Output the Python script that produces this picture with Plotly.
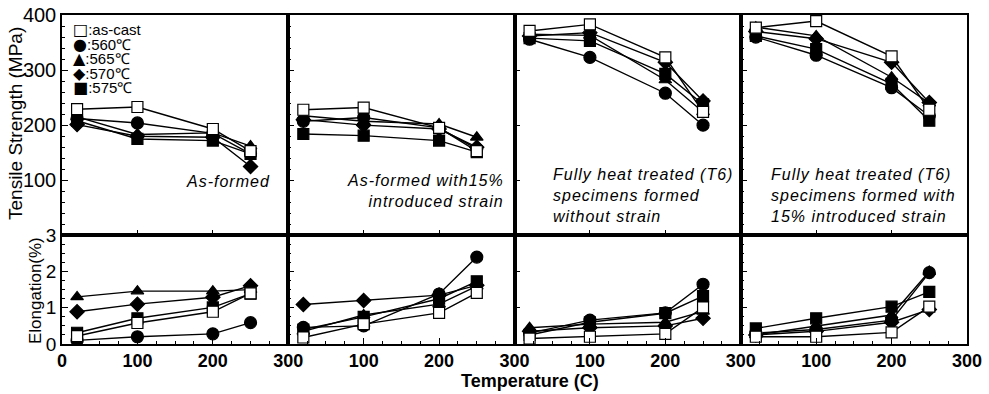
import plotly.graph_objects as go
from plotly.subplots import make_subplots

temps = [20, 100, 200, 250]
series = ["as-cast", "560℃", "565℃", "570℃", "575℃"]
symbols = ["square", "circle", "triangle-up", "diamond", "square"]
fills = ["white", "black", "black", "black", "black"]
legend_glyphs = ["□", "●", "▲", "◆", "■"]

# Tensile strength (MPa), per panel, per series [as-cast, 560, 565, 570, 575]
ts_as_formed = [
    [229, 233, 193, 153],
    [212, 204, 185, 148],
    [215, 183, 186, 162],
    [201, 180, 178, 125],
    [208, 175, 172, 148],
]
ts_as_formed_15 = [
    [228, 232, 195, 153],
    [207, 214, 195, 157],
    [217, 207, 202, 178],
    [210, 200, 193, 160],
    [184, 181, 172, 151],
]
ts_t6 = [
    [371, 383, 323, 224],
    [356, 323, 258, 200],
    [365, 363, 282, 224],
    [362, 368, 314, 244],
    [358, 353, 293, 238],
]
ts_t6_15 = [
    [377, 389, 325, 228],
    [360, 327, 268, 217],
    [378, 362, 287, 240],
    [370, 357, 314, 241],
    [362, 338, 275, 208],
]

# Elongation (%)
el_as_formed = [
    [0.22, 0.58, 0.89, 1.40],
    [0.10, 0.20, 0.28, 0.59],
    [1.30, 1.46, 1.46, 1.50],
    [0.89, 1.10, 1.29, 1.61],
    [0.31, 0.71, 1.01, 1.39],
]
el_as_formed_15 = [
    [0.18, 0.55, 0.86, 1.41],
    [0.46, 0.50, 1.38, 2.40],
    [0.35, 0.80, 1.10, 1.60],
    [1.09, 1.20, 1.35, 1.62],
    [0.40, 0.75, 1.25, 1.73],
]
el_t6 = [
    [0.15, 0.20, 0.28, 1.01],
    [0.30, 0.66, 0.86, 1.65],
    [0.45, 0.55, 0.60, 0.90],
    [0.35, 0.45, 0.50, 0.71],
    [0.25, 0.60, 0.85, 1.32],
]
el_t6_15 = [
    [0.20, 0.20, 0.32, 1.03],
    [0.30, 0.40, 0.66, 1.97],
    [0.25, 0.50, 0.80, 2.00],
    [0.25, 0.35, 0.60, 0.95],
    [0.43, 0.71, 1.03, 1.44],
]

strength = [ts_as_formed, ts_as_formed_15, ts_t6, ts_t6_15]
elong = [el_as_formed, el_as_formed_15, el_t6, el_t6_15]

panel_labels = [
    "As-formed",
    "As-formed with15%<br>introduced strain",
    "Fully heat treated (T6)<br>specimens formed<br>without strain",
    "Fully heat treated (T6)<br>specimens formed with<br>15% introduced strain",
]

fig = make_subplots(rows=2, cols=4, horizontal_spacing=0, vertical_spacing=0,
                    row_heights=[221, 109])

order = [1, 2, 3, 4, 0]  # draw as-cast last (on top)
for c in range(4):
    for row, data in ((1, strength[c]), (2, elong[c])):
        for i in order:
            fig.add_trace(go.Scatter(
                x=temps, y=data[i], mode="lines+markers", name=series[i],
                showlegend=False,
                line=dict(color="black", width=1.4),
                marker=dict(symbol=symbols[i], size=11 if symbols[i] != "circle" else 12,
                            color=fills[i], line=dict(color="black", width=1.2)),
            ), row=row, col=c + 1)

W, H = 989, 394
L, R, T, B = 62, 22, 15, 50
pw, ph = W - L - R, H - T - B


def px(X):
    return (X - L) / pw


def py(Y):
    return (H - B - Y) / ph


axis_common = dict(showline=True, linecolor="black", linewidth=1.5, mirror=True,
                   ticks="inside", ticklen=6, tickwidth=1.2, tickcolor="black",
                   showgrid=False, zeroline=False, automargin=False)

for c in range(4):
    tv = [0, 100, 200, 300] if c == 0 else [100, 200, 300]
    fig.update_xaxes(range=[0, 300], tickvals=tv, showticklabels=False,
                     minor=dict(ticks="inside", ticklen=3, dtick=25, tickcolor="black"),
                     **axis_common, row=1, col=c + 1)
    fig.update_xaxes(range=[0, 300], tickvals=tv, showticklabels=True,
                     tickfont=dict(family="Liberation Sans", size=18, color="black", weight="bold"),
                     minor=dict(ticks="inside", ticklen=3, dtick=25, tickcolor="black"),
                     **axis_common, row=2, col=c + 1)
    fig.update_yaxes(range=[0, 400], tickvals=[100, 200, 300, 400],
                     showticklabels=(c == 0),
                     tickfont=dict(family="Liberation Sans", size=20, color="black"),
                     minor=dict(ticks="inside", ticklen=3, dtick=20, tickcolor="black"),
                     **axis_common, row=1, col=c + 1)
    fig.update_yaxes(range=[0, 3], tickvals=[0, 1, 2, 3],
                     showticklabels=(c == 0),
                     tickfont=dict(family="Liberation Sans", size=19, color="black"),
                     minor=dict(ticks="inside", ticklen=3, dtick=0.25, tickcolor="black"),
                     **axis_common, row=2, col=c + 1)

annotations = []
label_pos = [(272, 181, "right", "middle"), (506, 170, "right", "top"),
             (551, 164, "left", "top"), (769, 164, "left", "top")]
for c, (X, Y, al, va) in enumerate(label_pos):
    lines = panel_labels[c].split("<br>")
    txt = "<br>".join('<span style="letter-spacing:1px">' + s + "</span>" for s in lines)
    annotations.append(dict(
        x=px(X), y=py(Y), xref="paper", yref="paper", text=txt,
        showarrow=False, xanchor=al, yanchor=va, align=al,
        font=dict(family="Liberation Sans", size=16, color="black", style="italic"),
    ))

# legend: one multi-line text block (line spacing from the small base font)
legend_rows = ['<span style="font-family:DejaVu Sans;font-size:16px">' + g
               + '</span><span style="font-size:15px">:' + s + "</span>"
               for g, s in zip(legend_glyphs, series)]
annotations.append(dict(
    x=px(71), y=py(29 + 2 * 14.5), xref="paper", yref="paper",
    text="<br>".join(legend_rows), showarrow=False,
    xanchor="left", yanchor="middle", align="left",
    font=dict(family="Liberation Sans", size=11.2, color="black"),
))

annotations.append(dict(x=px(15), y=py(124), xref="paper", yref="paper",
                        text="Tensile Strength (MPa)", textangle=-90, showarrow=False,
                        xanchor="center", yanchor="middle",
                        font=dict(family="Liberation Sans", size=19, color="black")))
annotations.append(dict(x=px(35), y=py(291), xref="paper", yref="paper",
                        text="Elongation(%)", textangle=-90, showarrow=False,
                        xanchor="center", yanchor="middle",
                        font=dict(family="Liberation Sans", size=17, color="black")))
annotations.append(dict(x=px(530), y=py(381), xref="paper", yref="paper",
                        text="Temperature (C)", showarrow=False,
                        xanchor="center", yanchor="middle",
                        font=dict(family="Liberation Sans", size=18, color="black", weight="bold")))

fig.update_layout(
    width=W, height=H, margin=dict(l=L, r=R, t=T, b=B, autoexpand=False),
    paper_bgcolor="white", plot_bgcolor="white",
    annotations=annotations, showlegend=False,
)

fig.write_html("out.html", config={"displayModeBar": False},
               post_script="document.body.style.margin='0';document.body.style.overflow='hidden';")
